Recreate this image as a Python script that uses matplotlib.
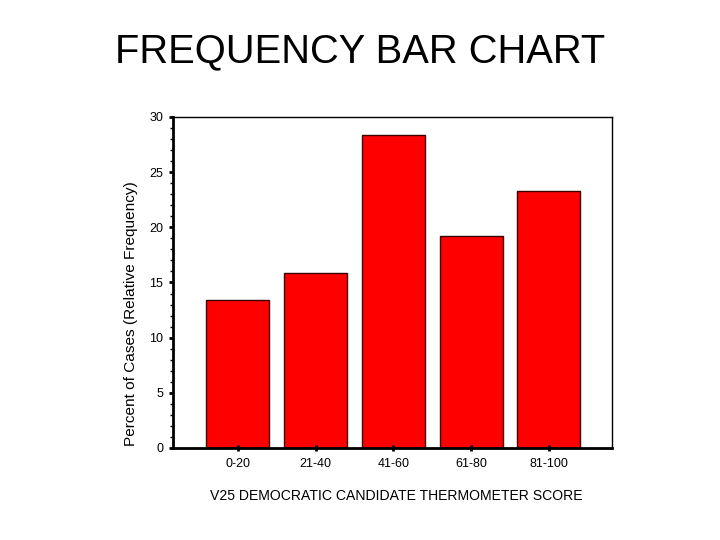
import matplotlib
matplotlib.use("Agg")
import matplotlib.pyplot as plt
from matplotlib.ticker import MultipleLocator

plt.rcParams['font.family'] = ['Liberation Sans', 'DejaVu Sans']

categories = ['0-20', '21-40', '41-60', '61-80', '81-100']
percents = [13.4, 15.9, 28.4, 19.2, 23.3]
y_ticks = [0, 5, 10, 15, 20, 25, 30]

fig = plt.figure(figsize=(7.2, 5.4), dpi=100, facecolor='white')
ax = fig.add_axes([0.2403, 0.1704, 0.6097, 0.613])

xpos = list(range(len(categories)))
ax.bar(xpos, percents, width=0.81, color='#ff0000', edgecolor='#3a0000', linewidth=1.0)

ax.set_xlim(-0.833, 4.81)
ax.set_ylim(0, 30)
ax.set_xticks(xpos)
ax.set_xticklabels(categories, fontsize=9)
ax.set_yticks(y_ticks)
ax.set_yticklabels([str(v) for v in y_ticks], fontsize=9)
ax.yaxis.set_minor_locator(MultipleLocator(1))

ax.tick_params(axis='y', which='major', direction='out', length=3, width=2, pad=4)
ax.tick_params(axis='y', which='minor', direction='out', length=2, width=1)
ax.tick_params(axis='x', which='major', direction='inout', length=4, width=2, pad=5)

for side in ['left', 'bottom']:
    ax.spines[side].set_linewidth(2)
for side in ['top', 'right']:
    ax.spines[side].set_linewidth(1)

fig.text(0.5, 0.905, 'FREQUENCY BAR CHART', ha='center', va='center', fontsize=28.7)
fig.text(131 / 720, 1 - 313.5 / 540, 'Percent of Cases (Relative Frequency)',
         rotation=90, ha='center', va='center', fontsize=11.1)
fig.text(396.5 / 720, 1 - 496 / 540, 'V25 DEMOCRATIC CANDIDATE THERMOMETER SCORE',
         ha='center', va='center', fontsize=10.1)

fig.savefig('out.png', dpi=100, facecolor='white')
